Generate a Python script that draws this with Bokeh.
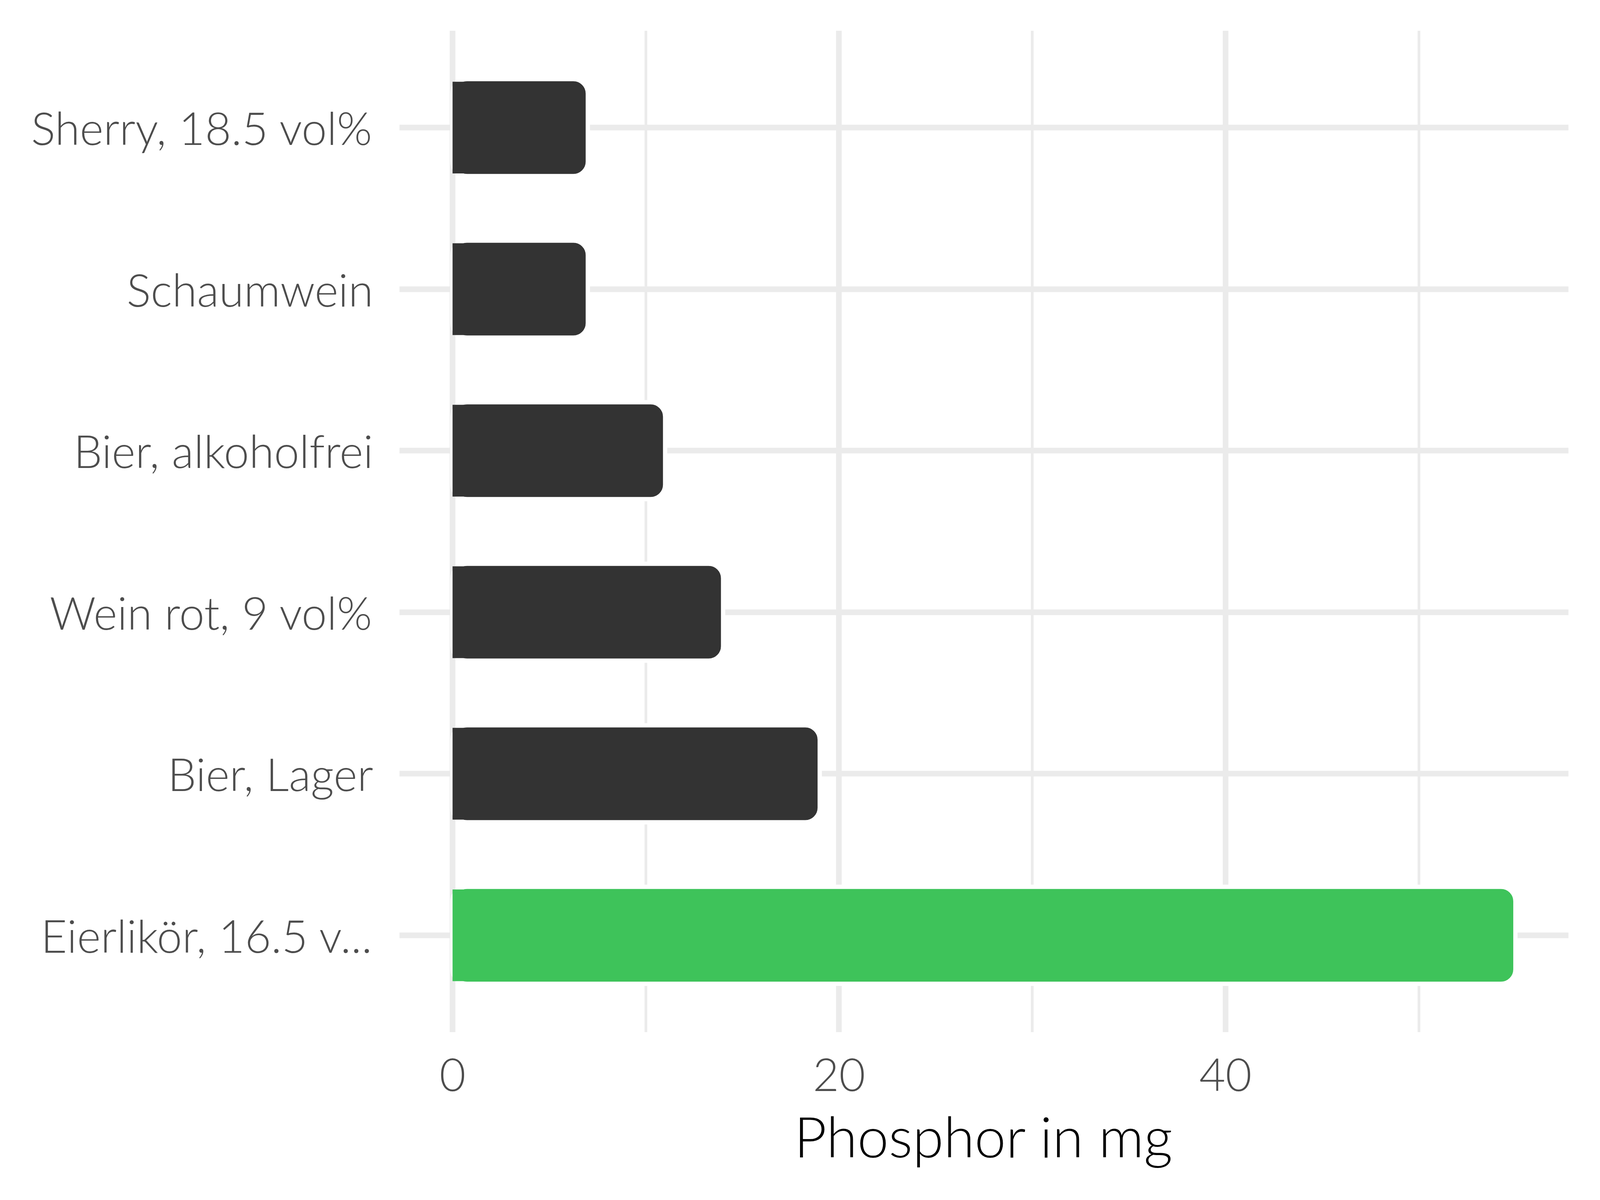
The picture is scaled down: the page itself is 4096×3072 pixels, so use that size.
from bokeh.plotting import figure
from bokeh.models import FactorRange, Range1d, FixedTicker, ColumnDataSource
from bokeh.embed import file_html
from bokeh.resources import INLINE

# ---- data ----
categories = ["Eierlikör, 16.5 v...", "Bier, Lager", "Wein rot, 9 vol%",
              "Bier, alkoholfrei", "Schaumwein", "Sherry, 18.5 vol%"]
values = [55, 19, 14, 11, 7, 7]
bar_colors = ["#3EC35A", "#333333", "#333333", "#333333", "#333333", "#333333"]
x_ticks = [0, 20, 40]
x_minor_ticks = [10, 30, 50]
x_title = "Phosphor in mg"

FONT = "Lato Light, Lato"
GRID = "#EBEBEB"

src = ColumnDataSource(dict(
    cat=categories,
    val=values,
    half=[v / 2 for v in values],
    col=bar_colors,
))

p = figure(
    width=4080, height=3056,
    y_range=FactorRange(factors=categories, range_padding=0.1,
                        range_padding_units="absolute"),
    x_range=Range1d(-2.75, 57.75),
    output_backend="svg", toolbar_location=None,
    min_border_left=1022, min_border_right=65,
    min_border_top=78, min_border_bottom=414,
)
p.background_fill_color = "white"
p.border_fill_color = "white"
p.outline_line_color = None

# grid
p.xaxis.ticker = FixedTicker(ticks=x_ticks, minor_ticks=x_minor_ticks)
p.xgrid.grid_line_color = GRID
p.xgrid.grid_line_width = 14.5
p.xgrid.minor_grid_line_color = GRID
p.xgrid.minor_grid_line_width = 7
p.ygrid.grid_line_color = GRID
p.ygrid.grid_line_width = 14.5

# bars: rounded with white outline, left half square
p.hbar(y="cat", left=0, right="val", height=0.6, source=src,
       fill_color="col", line_color="white", line_width=11,
       border_radius=37)
p.hbar(y="cat", left=0, right="half", height=0.568, source=src,
       fill_color="col", line_color=None)

# axes
for ax in (p.xaxis[0], p.yaxis[0]):
    ax.axis_line_color = None
    ax.major_tick_line_color = None
    ax.minor_tick_line_color = None
    ax.major_tick_out = 0
    ax.major_tick_in = 0
    ax.minor_tick_out = 0
    ax.minor_tick_in = 0
    ax.major_label_text_font = FONT
    ax.major_label_text_font_size = "116px"
    ax.major_label_text_color = "#4D4D4D"

p.yaxis.major_label_standoff = 67
p.xaxis.major_label_standoff = 67
p.xaxis.axis_label = x_title
p.xaxis.axis_label_text_font = FONT
p.xaxis.axis_label_text_font_size = "144px"
p.xaxis.axis_label_text_font_style = "normal"
p.xaxis.axis_label_text_color = "black"
p.xaxis.axis_label_standoff = 25

open("out.html", "w").write(file_html(p, INLINE))
